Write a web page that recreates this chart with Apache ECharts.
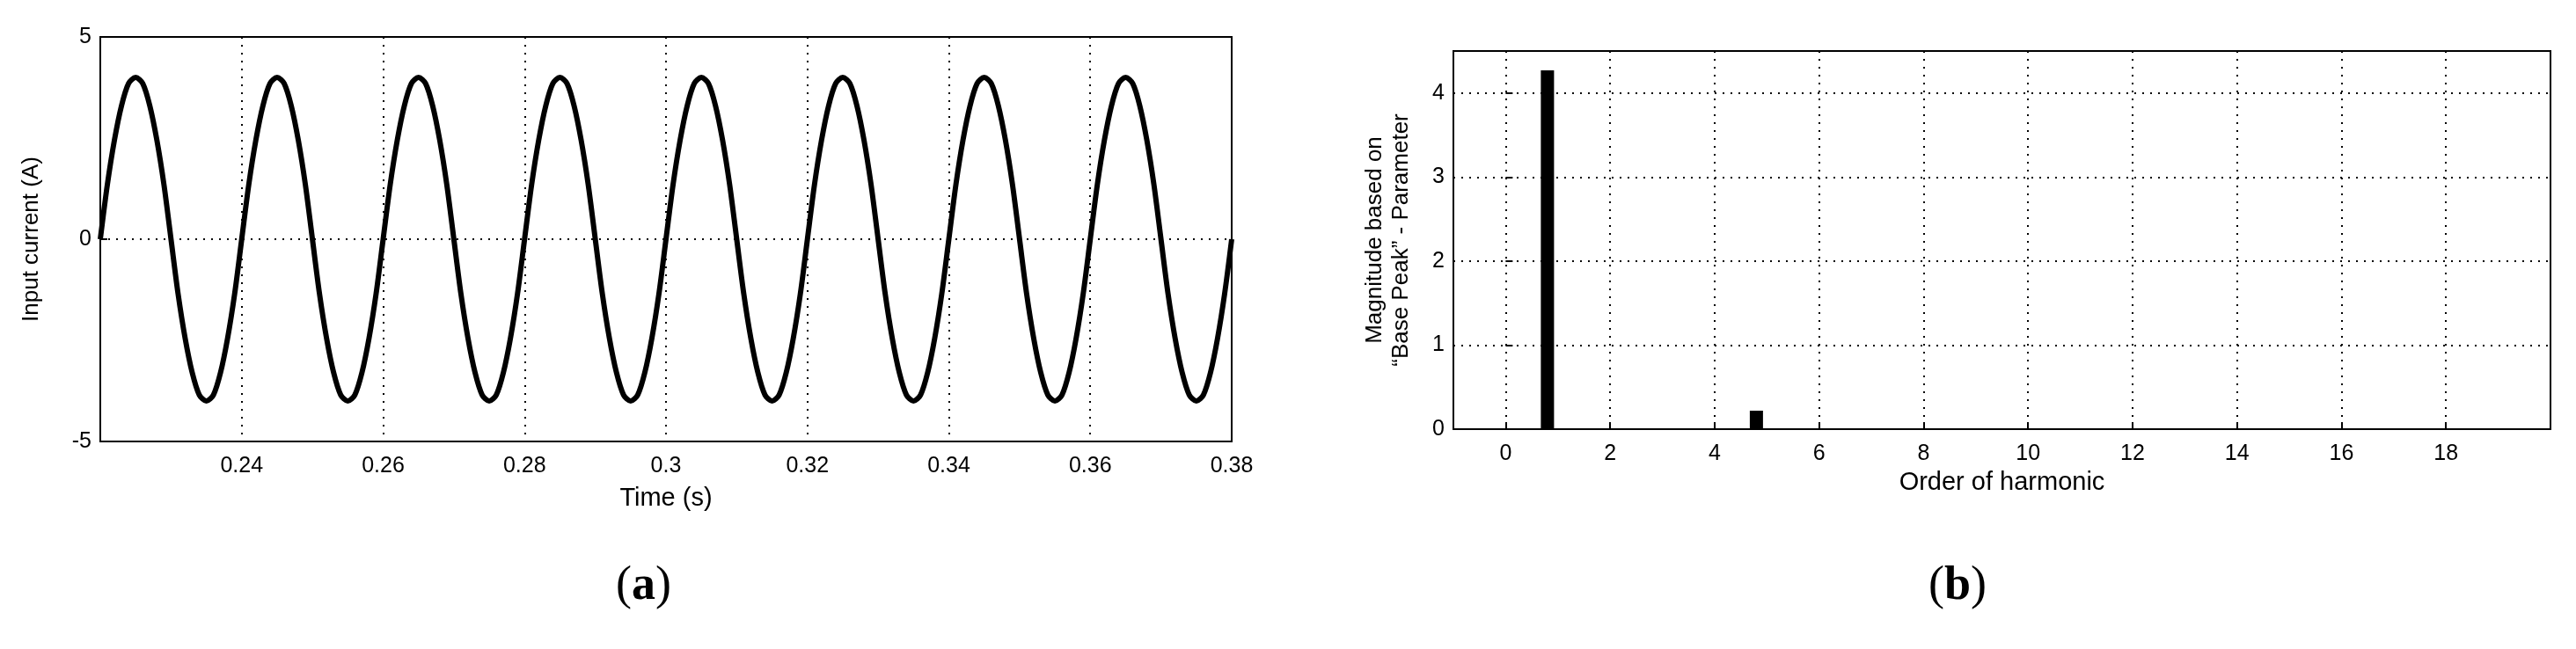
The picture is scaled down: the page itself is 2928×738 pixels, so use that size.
<!DOCTYPE html>
<html><head><meta charset="utf-8">
<script src="https://cdn.jsdelivr.net/npm/echarts@6/dist/echarts.min.js"></script>
<style>html,body{margin:0;padding:0;background:#fff}#c{width:2928px;height:738px}</style>
</head><body><div id="c"></div>
<script>
// Panel (a): input current sampled every 1 ms from 0.220 s to 0.380 s
const timeStart = 0.220, timeStep = 0.001;
const currentValues = [
 0,1.35,2.45,3.3,3.85,4.0,3.85,3.3,2.45,1.35,0,-1.35,-2.45,-3.3,-3.85,-4.0,-3.85,-3.3,-2.45,-1.35,
 0,1.35,2.45,3.3,3.85,4.0,3.85,3.3,2.45,1.35,0,-1.35,-2.45,-3.3,-3.85,-4.0,-3.85,-3.3,-2.45,-1.35,
 0,1.35,2.45,3.3,3.85,4.0,3.85,3.3,2.45,1.35,0,-1.35,-2.45,-3.3,-3.85,-4.0,-3.85,-3.3,-2.45,-1.35,
 0,1.35,2.45,3.3,3.85,4.0,3.85,3.3,2.45,1.35,0,-1.35,-2.45,-3.3,-3.85,-4.0,-3.85,-3.3,-2.45,-1.35,
 0,1.35,2.45,3.3,3.85,4.0,3.85,3.3,2.45,1.35,0,-1.35,-2.45,-3.3,-3.85,-4.0,-3.85,-3.3,-2.45,-1.35,
 0,1.35,2.45,3.3,3.85,4.0,3.85,3.3,2.45,1.35,0,-1.35,-2.45,-3.3,-3.85,-4.0,-3.85,-3.3,-2.45,-1.35,
 0,1.35,2.45,3.3,3.85,4.0,3.85,3.3,2.45,1.35,0,-1.35,-2.45,-3.3,-3.85,-4.0,-3.85,-3.3,-2.45,-1.35,
 0,1.35,2.45,3.3,3.85,4.0,3.85,3.3,2.45,1.35,0,-1.35,-2.45,-3.3,-3.85,-4.0,-3.85,-3.3,-2.45,-1.35,
 0
];
const timeTicks = [0.24,0.26,0.28,0.30,0.32,0.34,0.36,0.38];
// Panel (b): harmonic spectrum
const harmonicOrders = [0.8, 4.8];
const harmonicMagnitudes = [4.27, 0.22];
const harmonicTicks = [0,2,4,6,8,10,12,14,16,18];

const lineData = currentValues.map((v,i)=>[+(timeStart+i*timeStep).toFixed(4), v]);
const barData = harmonicOrders.map((x,i)=>[x, harmonicMagnitudes[i]]);
const tickFont = {fontFamily:'Liberation Sans Narrow, Liberation Sans, Arial', fontSize:25, color:'#000'};
const dotted = {show:true, lineStyle:{color:'#000', type:[2,7], width:2}};

const chart = echarts.init(document.getElementById('c'));
chart.setOption({
  animation:false,
  grid:[
    {left:114,top:42,width:1286,height:460,show:true,borderColor:'#000',borderWidth:2,containLabel:false},
    {left:1652,top:58,width:1247,height:430,show:true,borderColor:'#000',borderWidth:2,containLabel:false}
  ],
  xAxis:[
    {gridIndex:0,type:'value',min:0.22,max:0.38,
     axisLine:{show:false},
     axisTick:{show:true,inside:true,length:8,customValues:timeTicks,lineStyle:{color:'#000',width:2}},
     axisLabel:{customValues:timeTicks,margin:16,formatter:v=>String(+v.toFixed(2)),...tickFont},
     splitLine:dotted,
     name:'Time (s)',nameLocation:'middle',nameGap:50,
     nameTextStyle:{fontFamily:'Liberation Sans Narrow, Liberation Sans, Arial',fontSize:29,color:'#000'}},
    {gridIndex:1,type:'value',min:-1,max:20,
     axisLine:{show:false},
     axisTick:{show:true,inside:true,length:8,customValues:harmonicTicks,lineStyle:{color:'#000',width:2}},
     axisLabel:{customValues:harmonicTicks,margin:16,...tickFont},
     splitLine:dotted,
     name:'Order of harmonic',nameLocation:'middle',nameGap:46,
     nameTextStyle:{fontFamily:'Liberation Sans Narrow, Liberation Sans, Arial',fontSize:29,color:'#000'}}
  ],
  yAxis:[
    {gridIndex:0,type:'value',min:-5,max:5,interval:5,
     axisLine:{show:false},
     axisTick:{show:true,inside:true,length:8,lineStyle:{color:'#000',width:2}},
     axisLabel:{margin:10,...tickFont},
     splitLine:dotted,
     name:'Input current (A)',nameLocation:'middle',nameGap:65,
     nameTextStyle:{fontFamily:'Liberation Sans, Arial',fontSize:26,color:'#000'}},
    {gridIndex:1,type:'value',min:0,max:4.5,interval:1,
     axisLine:{show:false},
     axisTick:{show:true,inside:true,length:8,lineStyle:{color:'#000',width:2}},
     axisLabel:{margin:10,formatter:v=>Number.isInteger(v)?String(v):'',...tickFont},
     splitLine:dotted,
     name:'Magnitude based on\n\u201cBase Peak\u201d - Parameter',nameLocation:'middle',nameGap:44,
     nameTextStyle:{fontFamily:'Liberation Sans, Arial',fontSize:26,color:'#000',lineHeight:30}}
  ],
  series:[
    {type:'line',xAxisIndex:0,yAxisIndex:0,data:lineData,showSymbol:false,smooth:0.3,
     lineStyle:{color:'#000',width:6}},
    {type:'bar',xAxisIndex:1,yAxisIndex:1,data:barData,barWidth:15,itemStyle:{color:'#000'}}
  ],
  graphic:[
    {type:'text',left:700,top:640,style:{text:'{p|(}{b|a}{p|)}',rich:{p:{fontFamily:'Liberation Serif, serif',fontSize:54,fill:'#000'},b:{fontFamily:'Liberation Serif, serif',fontSize:54,fontWeight:'bold',fill:'#000'}}}},
    {type:'text',left:2192,top:640,style:{text:'{p|(}{b|b}{p|)}',rich:{p:{fontFamily:'Liberation Serif, serif',fontSize:54,fill:'#000'},b:{fontFamily:'Liberation Serif, serif',fontSize:54,fontWeight:'bold',fill:'#000'}}}}
  ]
});
</script></body></html>
